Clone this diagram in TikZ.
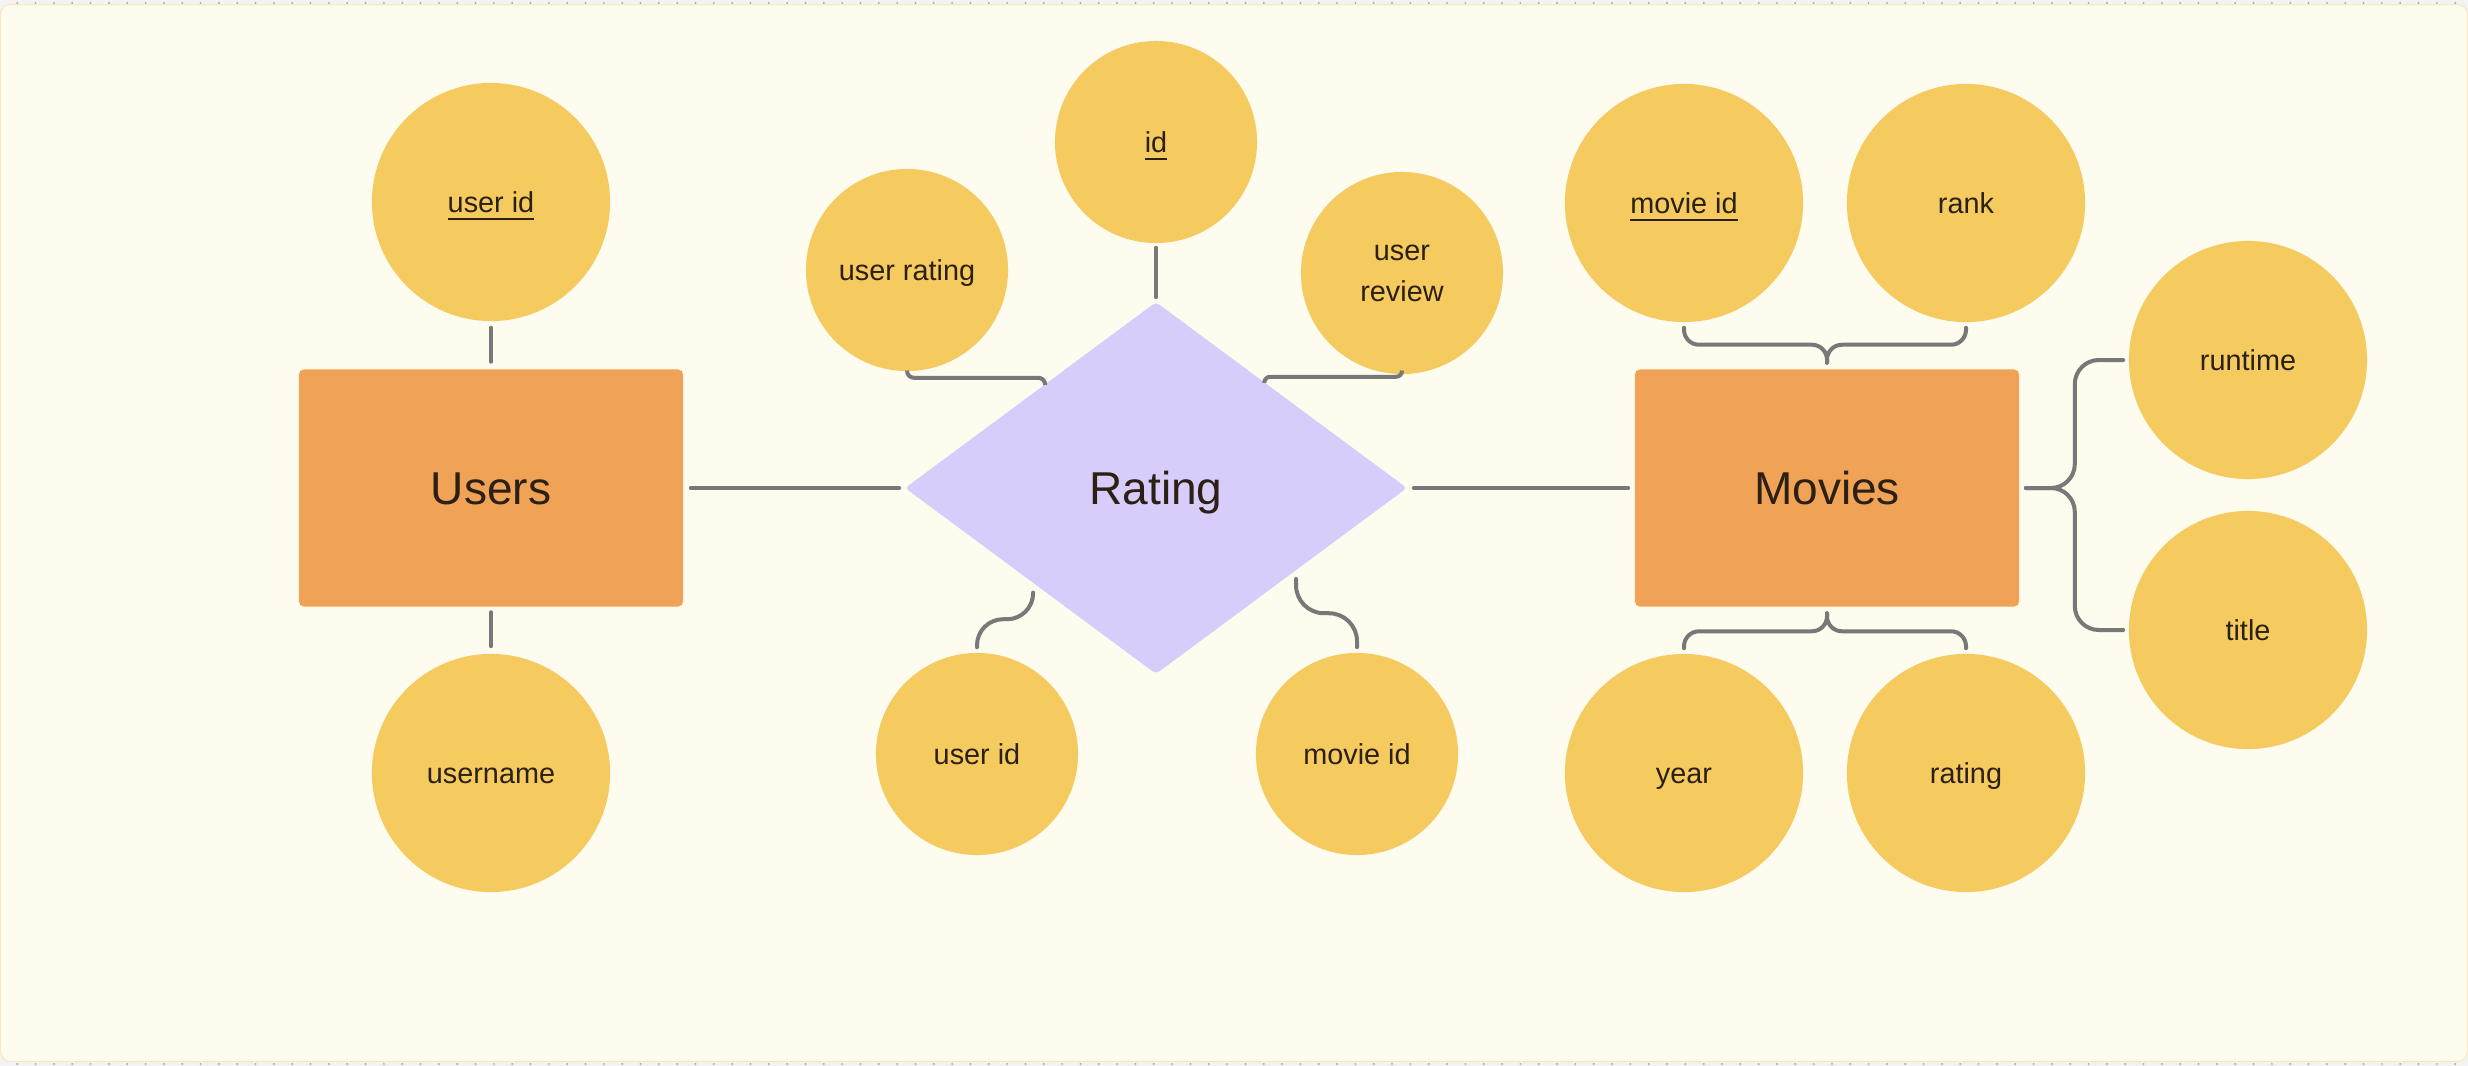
\documentclass[tikz,border=0pt]{standalone}
\usepackage{fontspec}
\setmainfont{Liberation Sans}
\usetikzlibrary{shapes.geometric,calc}
\definecolor{canvas}{HTML}{F3F3F3}
\definecolor{dotgray}{HTML}{A8A8A8}
\definecolor{cream}{HTML}{FEFBEF}
\definecolor{creamedge}{HTML}{F8E8BC}
\definecolor{attrfill}{HTML}{F5CA5F}
\definecolor{entfill}{HTML}{F0A256}
\definecolor{relfill}{HTML}{D8CDFA}
\definecolor{linkgray}{HTML}{787878}
\definecolor{ink}{HTML}{2B2013}
\newcommand{\pkey}[1]{\setbox0\hbox{#1}\rlap{\vrule height -1.5pt depth 2.1pt width \wd0}\box0}
\tikzset{
  attr/.style={circle, fill=attrfill, minimum size=2.02cm, text=ink, align=center,
    font=\fontsize{8.2pt}{11.7pt}\selectfont},
  oneline/.style={text height=5.9pt, text depth=0pt},
  bigattr/.style={attr, oneline, minimum size=2.38cm},
  entity/.style={rectangle, rounded corners=0.05cm, fill=entfill, minimum width=3.84cm,
    minimum height=2.37cm, text=ink, text height=9.4pt, text depth=0pt,
    font=\fontsize{13.1pt}{15pt}\selectfont},
  relation/.style={diamond, fill=relfill, minimum width=5.02cm, minimum height=3.72cm,
    rounded corners=0.04cm, text=ink, text height=9.4pt, text depth=0pt,
    font=\fontsize{13.1pt}{15pt}\selectfont},
  link/.style={draw=linkgray, line width=0.04cm, line cap=round}
}
\begin{document}
\begin{tikzpicture}[x=0.01cm, y=-0.01cm, every node/.append style={inner sep=0pt}]
	\useasboundingbox (0,0) rectangle (2468,1066);
	\fill [canvas] (0,0) rectangle (2468,1066);
	\foreach \i in {0,...,133} {
		\fill [dotgray] (17.3+18.33*\i,3) circle (0.011cm);
		\fill [dotgray] (17.3+18.33*\i,1064) circle (0.011cm);
	}
	\filldraw [fill=cream, draw=creamedge, line width=0.01cm, rounded corners=0.1cm] (0.5,4.5) rectangle (2467.5,1061.5);
	\node [entity] (users) at (491,488) {Users};
	\node [bigattr] (uid) at (491,202) {\pkey{user id}};
	\node [bigattr] (uname) at (491,773) {username};
	\node [relation] (rating) at (1156,488) {Rating};
	\node [attr, oneline] (rid) at (1156,142) {\pkey{id}};
	\node [attr, oneline] (urating) at (907,270) {user rating};
	\node [attr, yshift=-0.03cm] (ureview) at (1402,270) {user\\review};
	\node [attr, oneline] (ruid) at (977,754) {user id};
	\node [attr, oneline] (rmid) at (1357,754) {movie id};
	\node [entity] (movies) at (1827,488) {Movies};
	\node [bigattr] (mid) at (1684,203) {\pkey{movie id}};
	\node [bigattr] (mrank) at (1966,203) {rank};
	\node [bigattr] (mrun) at (2248,360) {runtime};
	\node [bigattr] (mtitle) at (2248,630) {title};
	\node [bigattr] (myear) at (1684,773) {year};
	\node [bigattr] (mrating) at (1966,773) {rating};
	\coordinate (rnw) at ($(rating.west)!0.56!(rating.north)$);
	\coordinate (rne) at ($(rating.north)!0.43!(rating.east)$);
	\coordinate (rsw) at ($(rating.west)!0.512!(rating.south)+(0,9)$);
	\coordinate (rse) at ($(rating.east)!0.444!(rating.south)+(0,8)$);
	\coordinate (mtop) at ($(movies.north)+(0,-6)$);
	\coordinate (mbot) at ($(movies.south)+(0,6)$);
	\coordinate (mright) at ($(movies.east)+(6,0)$);
	\draw [link, shorten <=0.06cm, shorten >=0.07cm] (uid.south) -- (users.north);
	\draw [link, shorten <=0.05cm, shorten >=0.07cm] (users.south) -- (uname.north);
	\draw [link, shorten <=0.07cm, shorten >=0.05cm] (users.east) -- (rating.west);
	\draw [link, shorten <=0.06cm, shorten >=0.06cm] (rating.east) -- (movies.west);
	\draw [link, shorten <=0.04cm, shorten >=0.04cm] (rid.south) -- (rating.north);
	\draw [link, rounded corners=0.07cm] ($(urating.south)+(0,-1)$) -- ++(0,7) -| (rnw);
	\draw [link, rounded corners=0.06cm] ($(ureview.south)+(0,-4)$) -- ++(0,6) -| (rne);
	\draw [link, rounded corners=0.26cm] ($(ruid.north)+(0,-5)$) -- ++(0,-28) -| (rsw);
	\draw [link, rounded corners=0.28cm] ($(rmid.north)+(0,-5)$) -- ++(0,-34) -| (rse);
	\draw [link, rounded corners=0.15cm] ($(mid.south)+(0,5)$) |- ($(mtop)+(0,-18)$) -- (mtop);
	\draw [link, rounded corners=0.15cm] ($(mrank.south)+(0,5)$) |- ($(mtop)+(0,-18)$) -- (mtop);
	\draw [link, rounded corners=0.15cm] (mbot) -- ++(0,18) -| ($(myear.north)+(0,-5)$);
	\draw [link, rounded corners=0.15cm] (mbot) -- ++(0,18) -| ($(mrating.north)+(0,-5)$);
	\draw [link, rounded corners=0.24cm] (mright) -- ++(49,0) |- ($(mrun.west)+(-5,0)$);
	\draw [link, rounded corners=0.24cm] (mright) -- ++(49,0) |- ($(mtitle.west)+(-5,0)$);
\end{tikzpicture}
\end{document}
